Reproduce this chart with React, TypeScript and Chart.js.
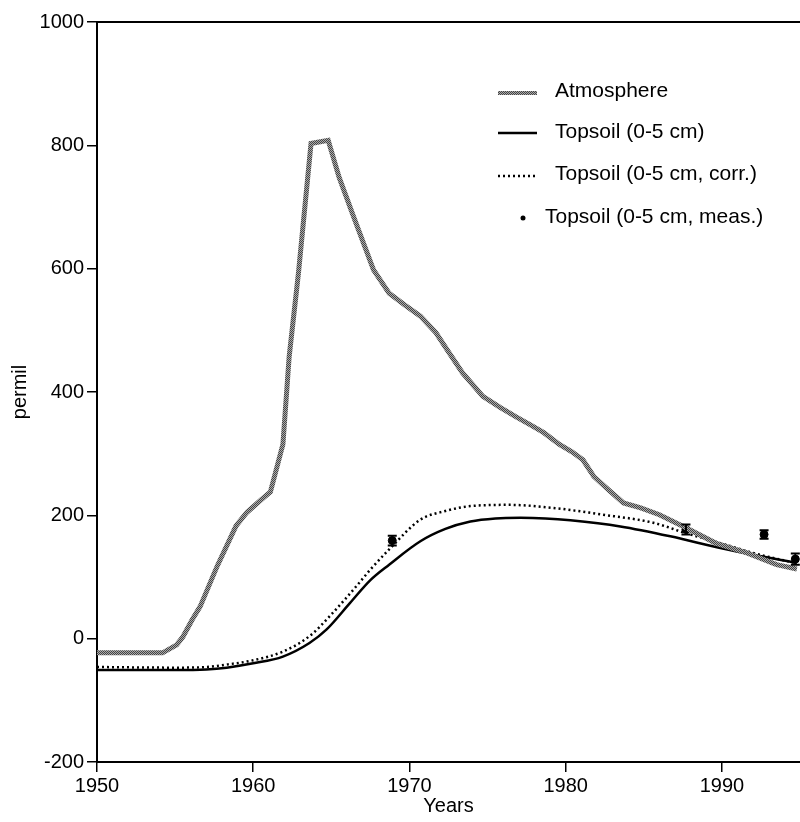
import React, { useEffect, useRef } from "react";
import { Chart, registerables } from "chart.js";

Chart.register(...registerables);

// ---- Data ----
const atmYears = [1950, 1954.2, 1955.1, 1955.5, 1956.1, 1956.6, 1957.7, 1958.9, 1959.6, 1960.5, 1961.1, 1961.9, 1962.3, 1962.9, 1963.7, 1964.8, 1965.5, 1966.5, 1967.7, 1968.7, 1969.7, 1970.7, 1971.7, 1972.5, 1973.4, 1974.7, 1975.8, 1976.8, 1977.8, 1978.6, 1979.6, 1980.4, 1981.1, 1981.8, 1982.8, 1983.7, 1984.8, 1986.0, 1987.7, 1989.6, 1991.6, 1993.5, 1994.8];
const atmValues = [-23, -23, -10, 3, 31, 52, 118, 183, 205, 225, 238, 315, 457, 594, 803, 808, 748, 679, 598, 560, 541, 523, 496, 465, 431, 393, 375, 360, 346, 334, 315, 303, 290, 263, 240, 220, 212, 201, 180, 155, 139, 120, 113];

const soilYears = [1950, 1955, 1957, 1958.3, 1960, 1961.9, 1963.6, 1964.7, 1966.2, 1967.5, 1968.7, 1970.7, 1972.3, 1973.9, 1975.5, 1977.1, 1978.7, 1980.3, 1983.5, 1986.7, 1989.9, 1992, 1994.8];
const soilValues = [-51, -51, -50, -47, -40, -29, -7, 15, 58, 95, 120, 158, 178, 190, 195, 196, 195, 192, 182, 166, 147, 136, 123];

const corrYears = [1950, 1955, 1957, 1958, 1960, 1961.9, 1963.6, 1965.1, 1966.6, 1967.5, 1968.9, 1970.7, 1972.3, 1973.9, 1976.4, 1979.2, 1982.4, 1985.6, 1987.7, 1989.9, 1992, 1994.8];
const corrValues = [-46, -47, -46, -43, -35, -21, 4, 42, 85, 112, 150, 193, 207, 215, 217, 212, 201, 188, 171, 155, 139, 122];

const measYears = [1968.9, 1987.7, 1992.7, 1994.7];
const measValues = [159, 177, 169, 129];
const measErr = [8, 8, 7, 9];

const xTicks = [1950, 1960, 1970, 1980, 1990];
const yTicks = [-200, 0, 200, 400, 600, 800, 1000];

const seriesLabels = [
  "Atmosphere",
  "Topsoil (0-5 cm)",
  "Topsoil (0-5 cm, corr.)",
  "Topsoil (0-5 cm, meas.)",
];

const FONT = "'Liberation Sans', Arial, Helvetica, sans-serif";

function pts(xs: number[], ys: number[]) {
  return xs.map((x, i) => ({ x, y: ys[i] }));
}

export default function App() {
  const ref = useRef<HTMLCanvasElement | null>(null);

  useEffect(() => {
    const canvas = ref.current;
    if (!canvas) return;
    const ctx = canvas.getContext("2d")!;

    // halftone-like pattern for the atmosphere line
    const pc = document.createElement("canvas");
    pc.width = 2;
    pc.height = 2;
    const pctx = pc.getContext("2d")!;
    pctx.fillStyle = "#ababab";
    pctx.fillRect(0, 0, 2, 2);
    pctx.fillStyle = "#444444";
    pctx.fillRect(0, 0, 1, 1);
    pctx.fillRect(1, 1, 1, 1);
    const pattern = ctx.createPattern(pc, "repeat")!;

    const framePlugin = {
      id: "frameTop",
      afterDraw(chart: any) {
        const { ctx: c, chartArea: a } = chart;
        c.save();
        c.strokeStyle = "#000";
        c.lineWidth = 2;
        c.beginPath();
        c.moveTo(a.left, a.top);
        c.lineTo(a.right, a.top);
        c.stroke();
        c.restore();
      },
    };

    const errorBarPlugin = {
      id: "errorBars",
      afterDatasetsDraw(chart: any) {
        const { ctx: c } = chart;
        const xs = chart.scales.x;
        const ys = chart.scales.y;
        c.save();
        c.strokeStyle = "#000";
        c.lineWidth = 2;
        measYears.forEach((yr, i) => {
          const px = xs.getPixelForValue(yr);
          const top = ys.getPixelForValue(measValues[i] + measErr[i]);
          const bot = ys.getPixelForValue(measValues[i] - measErr[i]);
          c.beginPath();
          c.moveTo(px, top);
          c.lineTo(px, bot);
          c.moveTo(px - 4.5, top);
          c.lineTo(px + 4.5, top);
          c.moveTo(px - 4.5, bot);
          c.lineTo(px + 4.5, bot);
          c.stroke();
        });
        c.restore();
      },
    };

    const legendPlugin = {
      id: "customLegend",
      afterDraw(chart: any) {
        const c = chart.ctx;
        const ds = chart.data.datasets;
        c.save();
        c.font = `21px ${FONT}`;
        c.fillStyle = "#000";
        c.textBaseline = "middle";
        c.textAlign = "left";
        const x0 = 498;
        const x1 = 537;
        // Atmosphere
        c.strokeStyle = pattern;
        c.lineWidth = 4;
        c.beginPath();
        c.moveTo(x0, 93);
        c.lineTo(x1, 93);
        c.stroke();
        c.fillText(ds[0].label, 555, 91);
        // Topsoil solid
        c.strokeStyle = "#000";
        c.lineWidth = 2.5;
        c.beginPath();
        c.moveTo(x0, 133);
        c.lineTo(x1, 133);
        c.stroke();
        c.fillText(ds[1].label, 555, 132);
        // Topsoil dotted
        c.setLineDash([2, 3]);
        c.lineWidth = 2.5;
        c.beginPath();
        c.moveTo(x0, 176);
        c.lineTo(x1, 176);
        c.stroke();
        c.setLineDash([]);
        c.fillText(ds[2].label, 555, 174);
        // measured
        c.beginPath();
        c.arc(523, 218, 2.5, 0, Math.PI * 2);
        c.fill();
        c.fillText(ds[3].label, 545, 217);
        c.restore();
      },
    };

    const chart = new Chart(canvas, {
      type: "line",
      data: {
        datasets: [
          {
            label: seriesLabels[0],
            data: pts(atmYears, atmValues),
            borderColor: pattern as any,
            borderWidth: 5,
            pointRadius: 0,
            tension: 0,
            fill: false,
          },
          {
            label: seriesLabels[1],
            data: pts(soilYears, soilValues),
            borderColor: "#000",
            borderWidth: 2.5,
            pointRadius: 0,
            cubicInterpolationMode: "monotone",
            fill: false,
          },
          {
            label: seriesLabels[2],
            data: pts(corrYears, corrValues),
            borderColor: "#000",
            borderWidth: 2.5,
            borderDash: [2, 3],
            pointRadius: 0,
            cubicInterpolationMode: "monotone",
            fill: false,
          },
          {
            label: seriesLabels[3],
            data: pts(measYears, measValues),
            showLine: false,
            pointRadius: 4,
            pointBackgroundColor: "#000",
            pointBorderColor: "#000",
            borderColor: "#000",
            backgroundColor: "#000",
          },
        ],
      },
      options: {
        responsive: false,
        animation: false,
        devicePixelRatio: 1,
        layout: { autoPadding: false, padding: { top: 22, right: 0, bottom: 0, left: 0 } },
        plugins: {
          legend: { display: false },
          tooltip: { enabled: false },
        },
        scales: {
          x: {
            type: "linear",
            min: 1950,
            max: 1995,
            afterBuildTicks: (s: any) => {
              s.ticks = xTicks.map((v) => ({ value: v }));
            },
            afterFit: (s: any) => {
              s.height = 60;
              s.paddingLeft = 0;
              s.paddingRight = 0;
            },
            grid: {
              drawOnChartArea: false,
              drawTicks: true,
              tickLength: 10,
              color: "#000",
              lineWidth: 1.5,
            },
            border: { display: true, color: "#000", width: 2 },
            ticks: {
              color: "#000",
              padding: 2,
              maxRotation: 0,
              font: { family: FONT, size: 20 },
              callback: (v: any) => String(v),
            },
            title: {
              display: true,
              text: "Years",
              color: "#000",
              font: { family: FONT, size: 20 },
              padding: { top: 0, bottom: 4 },
            },
          },
          y: {
            type: "linear",
            min: -200,
            max: 1000,
            afterBuildTicks: (s: any) => {
              s.ticks = yTicks.map((v) => ({ value: v }));
            },
            afterFit: (s: any) => {
              s.width = 97;
            },
            grid: {
              drawOnChartArea: false,
              drawTicks: true,
              tickLength: 10,
              color: "#000",
              lineWidth: 1.5,
            },
            border: { display: true, color: "#000", width: 2 },
            ticks: {
              color: "#000",
              padding: 3,
              font: { family: FONT, size: 20 },
              callback: (v: any) => String(v),
            },
            title: {
              display: true,
              text: "permil",
              color: "#000",
              font: { family: FONT, size: 20 },
              padding: { top: 8, bottom: 0 },
            },
          },
        },
      },
      plugins: [framePlugin, errorBarPlugin, legendPlugin],
    } as any);

    return () => chart.destroy();
  }, []);

  return (
    <div style={{ position: "absolute", left: 0, top: 0, width: 800, height: 822, background: "#fff" }}>
      <canvas ref={ref} width={800} height={822} style={{ display: "block" }} />
    </div>
  );
}
